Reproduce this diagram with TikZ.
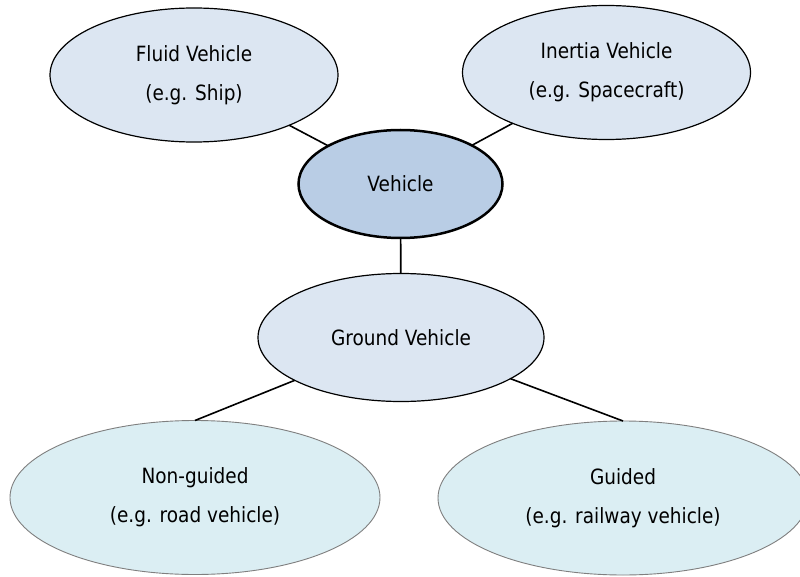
\documentclass[tikz,border=0pt]{standalone}
\usepackage{fontspec}
\setmainfont{DejaVu Sans}[FakeStretch=0.88]
\usetikzlibrary{shapes.geometric}
\definecolor{lightfill}{HTML}{DCE6F2}
\definecolor{darkfill}{HTML}{B9CDE5}
\definecolor{cyanfill}{HTML}{DBEEF3}
\definecolor{edgegray}{HTML}{7F7F7F}
\tikzset{
  ell/.style={ellipse, inner sep=0pt, outer sep=0pt, align=center,
    font=\fontsize{21}{39}\selectfont},
  upperell/.style={ell, draw=black, line width=1.2pt, fill=lightfill,
    minimum width=288pt, minimum height=134pt},
  mainell/.style={ell, draw=black, line width=2.5pt, fill=darkfill,
    minimum width=204pt, minimum height=108pt},
  groundell/.style={ell, draw=black, line width=1.2pt, fill=lightfill,
    minimum width=286pt, minimum height=128pt},
  lowerell/.style={ell, draw=edgegray, line width=0.9pt, fill=cyanfill,
    minimum width=370pt, minimum height=154pt},
  link/.style={draw=black, line width=1.6pt}
}
\begin{document}
\begin{tikzpicture}[x=1pt,y=-1pt]
\useasboundingbox (0,0) rectangle (800,577);
\fill[white] (0,0) rectangle (800,577);
\node[upperell] (fluid) at (194,75) {Fluid Vehicle\\(e.g. Ship)};
\node[upperell] (inertia) at (606.5,72.5) {Inertia Vehicle\\(e.g. Spacecraft)};
\node[mainell] (vehicle) at (400.5,184) {Vehicle};
\node[groundell] (ground) at (401,337.5) {Ground Vehicle};
\node[lowerell] (nonguided) at (195,497.5) {Non-guided\\(e.g. road vehicle)};
\node[lowerell] (guided) at (623,498) {Guided\\(e.g. railway vehicle)};
\draw[link] (fluid) -- (vehicle);
\draw[link] (inertia) -- (vehicle);
\draw[link] (vehicle) -- (ground);
\draw[link] (ground) -- (nonguided.north);
\draw[link] (ground) -- (guided.north);
\end{tikzpicture}
\end{document}
